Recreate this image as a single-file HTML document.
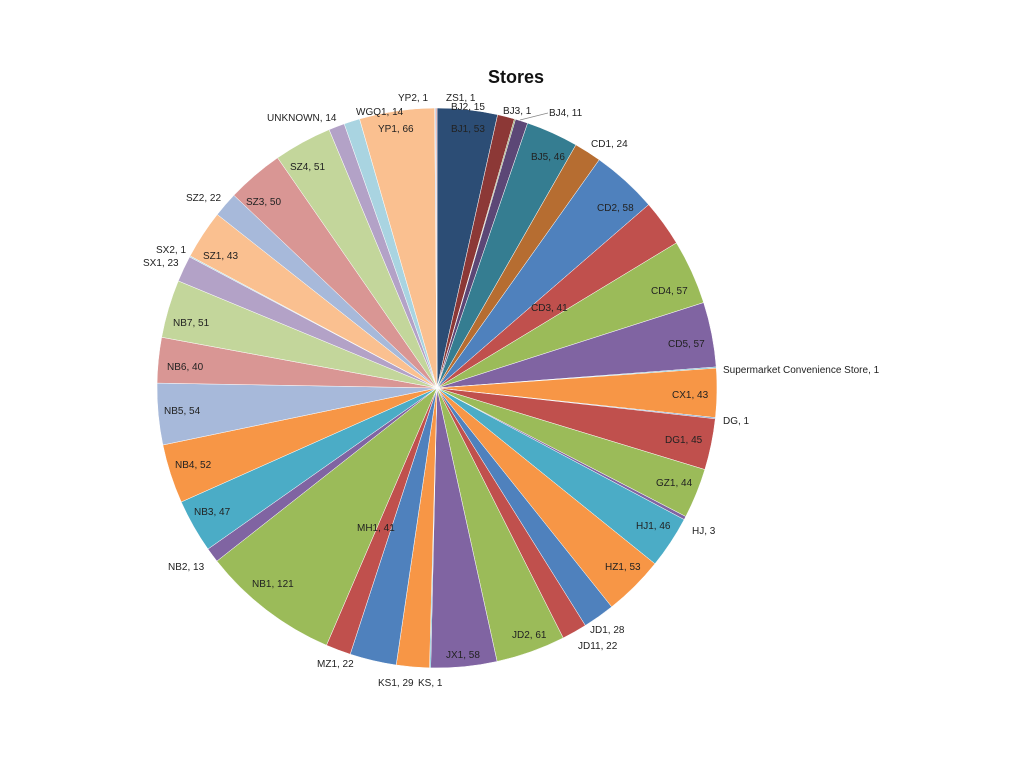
<!DOCTYPE html>
<html><head><meta charset="utf-8"><style>
html,body{margin:0;padding:0;background:#fff;}
svg text{font-family:"Liberation Sans",sans-serif;font-size:10px;fill:#222;}
</style></head><body>
<svg id="s" width="1024" height="769" viewBox="0 0 1024 769">
<rect width="1024" height="769" fill="#fff"/>
<g id="pie"></g>
<text x="516" y="83" text-anchor="middle" style="font-size:18px;font-weight:bold;fill:#111">Stores</text>
<g>
<text x="398" y="101">YP2, 1</text>
<text x="446" y="101">ZS1, 1</text>
<text x="451" y="110">BJ2, 15</text>
<text x="356" y="115">WGQ1, 14</text>
<text x="267" y="121">UNKNOWN, 14</text>
<text x="503" y="114">BJ3, 1</text>
<text x="549" y="116">BJ4, 11</text>
<text x="378" y="132">YP1, 66</text>
<text x="451" y="132">BJ1, 53</text>
<text x="591" y="147">CD1, 24</text>
<text x="531" y="160">BJ5, 46</text>
<text x="290" y="170">SZ4, 51</text>
<text x="186" y="201">SZ2, 22</text>
<text x="246" y="205">SZ3, 50</text>
<text x="597" y="211">CD2, 58</text>
<text x="156" y="253">SX2, 1</text>
<text x="143" y="266">SX1, 23</text>
<text x="203" y="259">SZ1, 43</text>
<text x="651" y="294">CD4, 57</text>
<text x="531" y="311">CD3, 41</text>
<text x="173" y="326">NB7, 51</text>
<text x="668" y="347">CD5, 57</text>
<text x="167" y="370">NB6, 40</text>
<text x="723" y="373">Supermarket Convenience Store, 1</text>
<text x="672" y="398">CX1, 43</text>
<text x="164" y="414">NB5, 54</text>
<text x="723" y="424">DG, 1</text>
<text x="665" y="443">DG1, 45</text>
<text x="175" y="468">NB4, 52</text>
<text x="656" y="486">GZ1, 44</text>
<text x="194" y="515">NB3, 47</text>
<text x="357" y="531">MH1, 41</text>
<text x="636" y="529">HJ1, 46</text>
<text x="692" y="534">HJ, 3</text>
<text x="605" y="570">HZ1, 53</text>
<text x="168" y="570">NB2, 13</text>
<text x="252" y="587">NB1, 121</text>
<text x="590" y="633">JD1, 28</text>
<text x="512" y="638">JD2, 61</text>
<text x="578" y="649">JD11, 22</text>
<text x="446" y="658">JX1, 58</text>
<text x="317" y="667">MZ1, 22</text>
<text x="378" y="686">KS1, 29</text>
<text x="418" y="686">KS, 1</text>
</g>
<line x1="548" y1="113" x2="520" y2="120" stroke="#888" stroke-width="0.7"/>
</svg>
<script>
var d=[53,15,1,11,46,24,58,41,57,57,1,43,1,45,44,3,46,53,28,22,61,58,1,29,41,22,121,13,47,52,54,40,51,23,1,43,22,50,51,14,14,66,1,1];
var dark=["#2C4D75","#8C3836","#71893F","#5C4776","#357D91","#B66D31"];
var norm=["#4F81BD","#C0504D","#9BBB59","#8064A2","#4BACC6","#F79646"];
var lite=["#A7B9DA","#D99694","#C3D69B","#B3A2C7","#A9D4E1","#FAC090"];
var tot=d.reduce(function(a,b){return a+b},0);
var cx=437,cy=388,r=280,a=0,h="";
for(var i=0;i<d.length;i++){
 var c=i<6?dark[i]:(i<30?norm[i%6]:lite[i%6]);
 var a0=a,a1=a+d[i]/tot*2*Math.PI;a=a1;
 var x0=cx+r*Math.sin(a0),y0=cy-r*Math.cos(a0),x1=cx+r*Math.sin(a1),y1=cy-r*Math.cos(a1);
 h+='<path d="M'+cx+','+cy+'L'+x0+','+y0+'A'+r+','+r+' 0 '+((a1-a0)>Math.PI?1:0)+' 1 '+x1+','+y1+'Z" fill="'+c+'" stroke="#fff" stroke-width="0.5"/>';
}
document.getElementById('pie').innerHTML=h;
</script>
</body></html>
